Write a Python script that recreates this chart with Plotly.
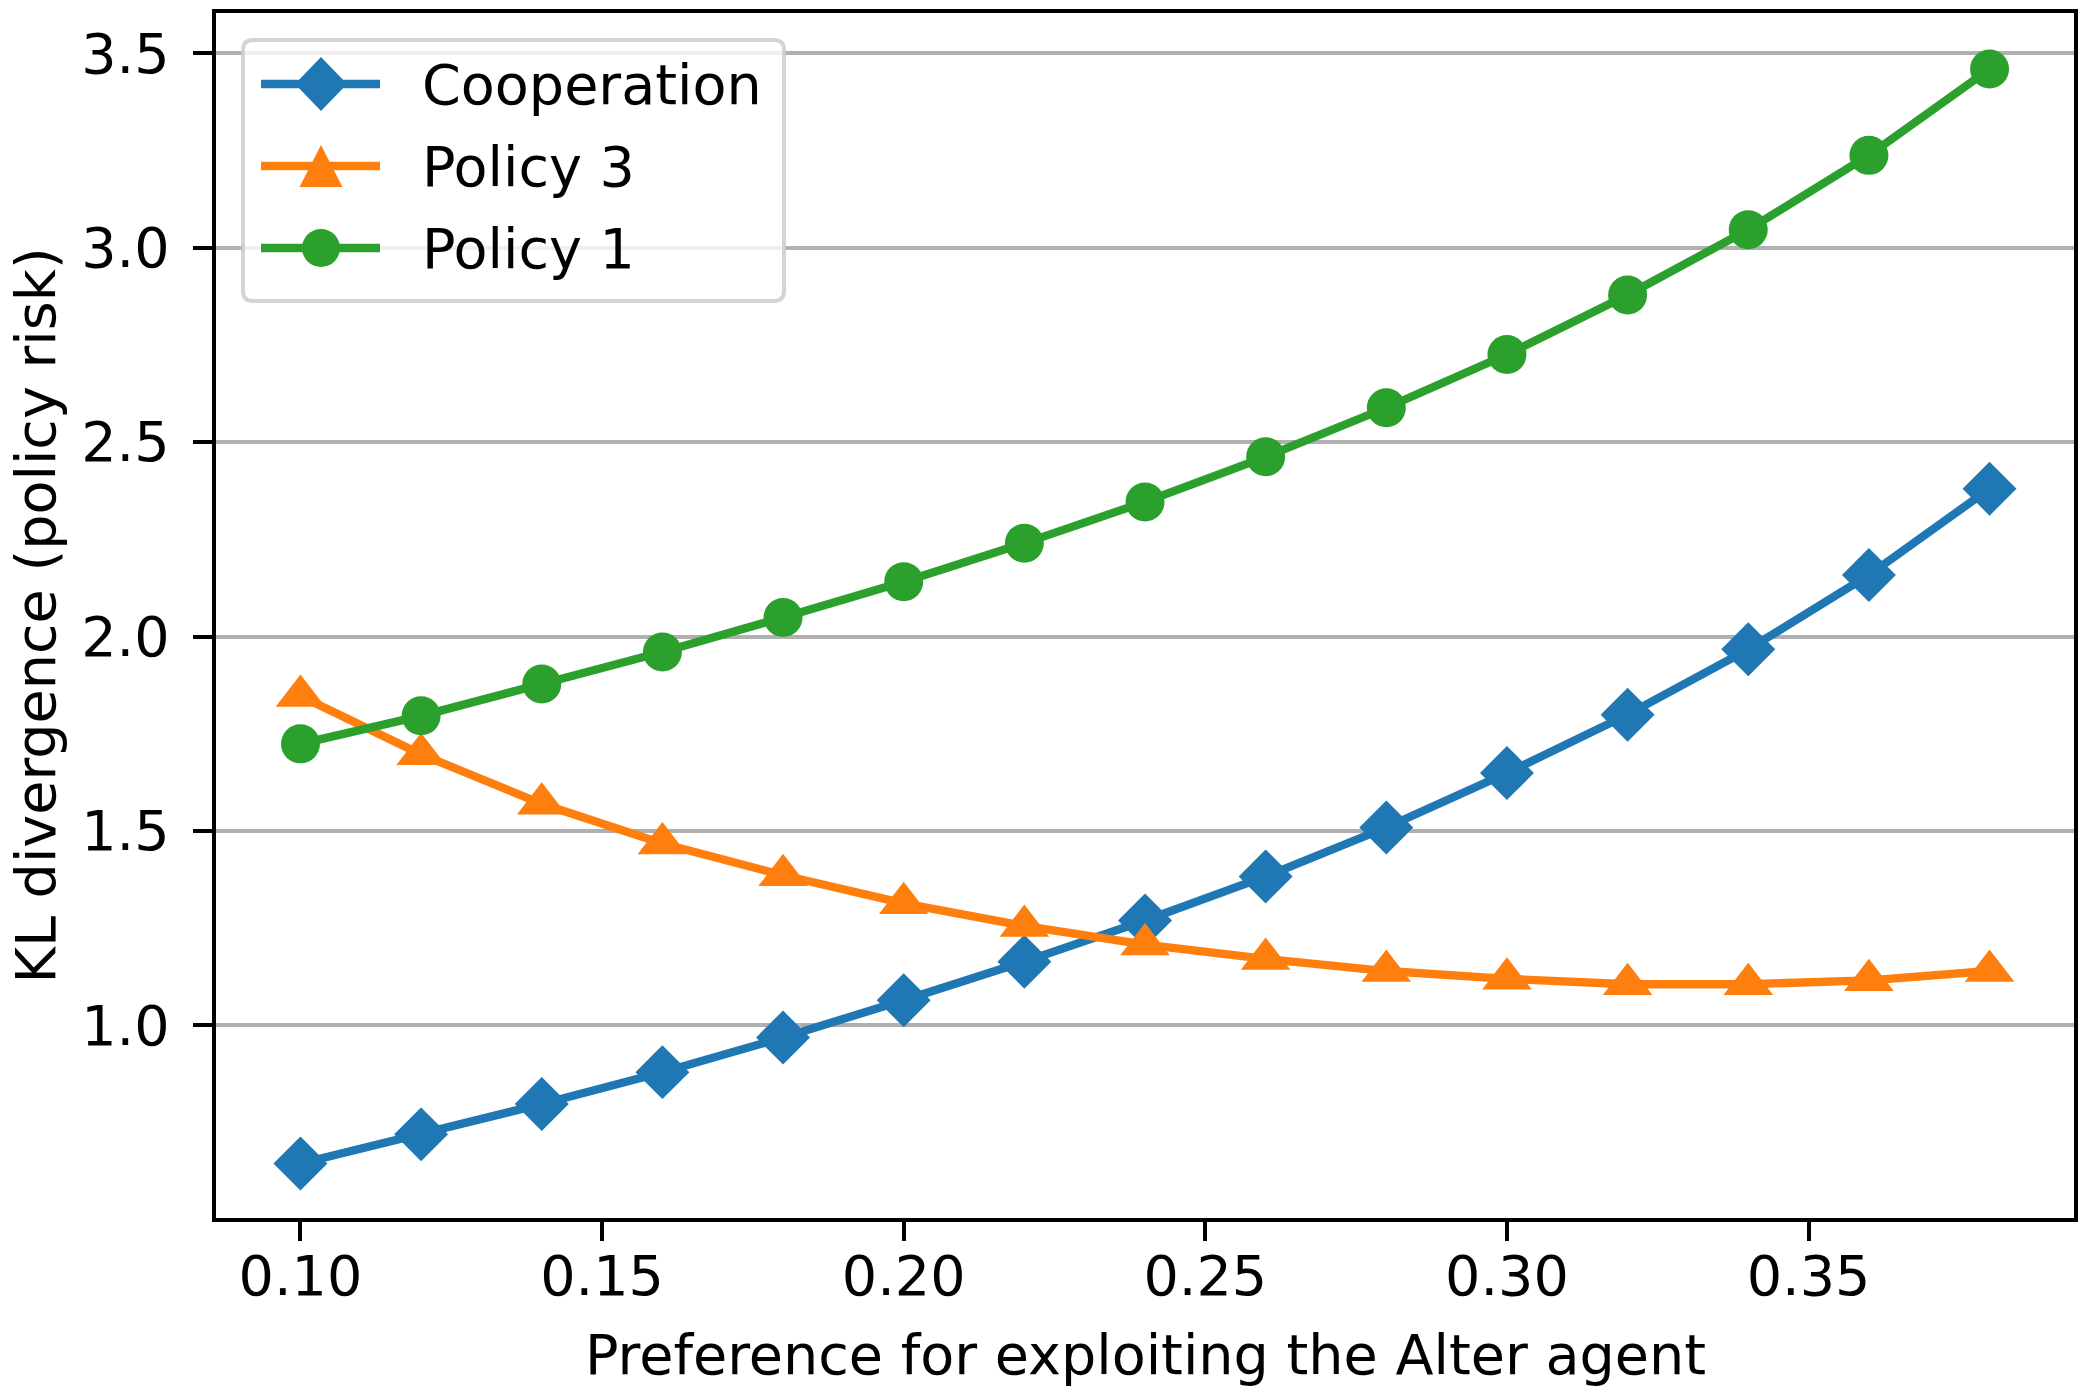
import plotly.graph_objects as go

# ---- data ----
x_pref = [0.10, 0.12, 0.14, 0.16, 0.18, 0.20, 0.22, 0.24, 0.26, 0.28, 0.30, 0.32, 0.34, 0.36, 0.38]
cooperation = [0.645, 0.720, 0.798, 0.880, 0.969, 1.065, 1.164, 1.270, 1.383, 1.509, 1.649, 1.799, 1.967, 2.158, 2.380]
policy3 = [1.847, 1.697, 1.570, 1.468, 1.386, 1.314, 1.256, 1.208, 1.171, 1.140, 1.120, 1.106, 1.106, 1.116, 1.140]
policy1 = [1.724, 1.796, 1.878, 1.960, 2.049, 2.141, 2.240, 2.346, 2.462, 2.588, 2.725, 2.878, 3.046, 3.237, 3.459]

series_names = ["Cooperation", "Policy 3", "Policy 1"]
x_ticks = [0.10, 0.15, 0.20, 0.25, 0.30, 0.35]
x_tick_labels = ["0.10", "0.15", "0.20", "0.25", "0.30", "0.35"]
y_ticks = [1.0, 1.5, 2.0, 2.5, 3.0, 3.5]
y_tick_labels = ["1.0", "1.5", "2.0", "2.5", "3.0", "3.5"]
x_title = "Preference for exploiting the Alter agent"
y_title = "KL divergence (policy risk)"

BLUE, ORANGE, GREEN = "#1f77b4", "#ff7f0e", "#2ca02c"
FONT = "DejaVu Sans"
FS = 55.6
LW = 8.3

fig = go.Figure()
specs = [
    (cooperation, series_names[0], BLUE, "diamond", 41.5),
    (policy3, series_names[1], ORANGE, "triangle-up", 43),
    (policy1, series_names[2], GREEN, "circle", 39),
]
for ys, name, col, sym, sz in specs:
    fig.add_trace(go.Scatter(
        x=x_pref, y=ys, name=name, mode="lines+markers",
        line=dict(color=col, width=LW),
        marker=dict(symbol=sym, size=sz, color=col, line=dict(width=0)),
        showlegend=False,
    ))

# ---- custom legend (pixel offsets from top-left corner of plot area) ----
shapes = []
common = dict(xref="paper", yref="paper", xsizemode="pixel", ysizemode="pixel",
              xanchor=0, yanchor=1, layer="above")
bx0, bx1, by0, by1, r = 27, 568, -27, -288, 10
box_path = (f"M{bx0+r},{by0} L{bx1-r},{by0} Q{bx1},{by0} {bx1},{by0-r} "
            f"L{bx1},{by1+r} Q{bx1},{by1} {bx1-r},{by1} L{bx0+r},{by1} "
            f"Q{bx0},{by1} {bx0},{by1+r} L{bx0},{by0-r} Q{bx0},{by0} {bx0+r},{by0} Z")
shapes.append(dict(type="path", path=box_path, fillcolor="rgba(255,255,255,0.8)",
                   line=dict(color="rgba(204,204,204,0.85)", width=4), **common))

rows = [-71, -153, -235]
cx = 105
cols = [BLUE, ORANGE, GREEN]
for yrow, col in zip(rows, cols):
    shapes.append(dict(type="line", x0=45, x1=164, y0=yrow, y1=yrow,
                       line=dict(color=col, width=LW), **common))
# diamond
yd = rows[0]
shapes.append(dict(type="path",
                   path=f"M{cx-26},{yd} L{cx},{yd+27} L{cx+26},{yd} L{cx},{yd-27} Z",
                   fillcolor=BLUE, line=dict(width=0), **common))
# triangle
yt = rows[1]
shapes.append(dict(type="path",
                   path=f"M{cx},{yt+21} L{cx+21.5},{yt-21} L{cx-21.5},{yt-21} Z",
                   fillcolor=ORANGE, line=dict(width=0), **common))
# circle
yc = rows[2]
shapes.append(dict(type="circle", x0=cx-19, x1=cx+19, y0=yc-19, y1=yc+19,
                   fillcolor=GREEN, line=dict(width=0), **common))

annotations = []
for yrow, name in zip(rows, series_names):
    annotations.append(dict(text=name, xref="paper", yref="paper", x=0, y=1,
                            xanchor="left", yanchor="middle", xshift=204, yshift=yrow,
                            showarrow=False, font=dict(family=FONT, size=FS, color="black")))
annotations.append(dict(text=x_title, xref="paper", yref="paper", x=0.5, y=0,
                        xanchor="center", yanchor="middle", yshift=-136, showarrow=False,
                        font=dict(family=FONT, size=FS, color="black")))
annotations.append(dict(text=y_title, xref="paper", yref="paper", x=0, y=0.5,
                        xanchor="center", yanchor="middle", xshift=-181, textangle=-90,
                        showarrow=False, font=dict(family=FONT, size=FS, color="black")))

fig.update_layout(
    width=2087, height=1399,
    margin=dict(l=216, r=12, t=9, b=181),
    paper_bgcolor="white", plot_bgcolor="white",
    font=dict(family=FONT, size=FS, color="black"),
    shapes=shapes, annotations=annotations,
    showlegend=False,
)
fig.update_xaxes(
    range=[0.086, 0.394], tickmode="array", tickvals=x_ticks, ticktext=x_tick_labels,
    showgrid=False, zeroline=False, showline=True, mirror=True,
    linecolor="black", linewidth=4.4, ticks="outside", ticklen=19, tickwidth=4.4,
    tickcolor="black", tickfont=dict(family=FONT, size=FS, color="black"),
    ticklabelstandoff=-13,
)
fig.update_yaxes(
    range=[0.505, 3.603], tickmode="array", tickvals=y_ticks, ticktext=y_tick_labels,
    showgrid=True, gridcolor="#b0b0b0", gridwidth=4.4, zeroline=False,
    showline=True, mirror=True, linecolor="black", linewidth=4.4,
    ticks="outside", ticklen=19, tickwidth=4.4, tickcolor="black",
    tickfont=dict(family=FONT, size=FS, color="black"),
    ticklabelstandoff=12,
)

fig.write_html("out.html", config={"displayModeBar": False},
               post_script="document.body.style.margin='0px';document.body.style.padding='0px';document.body.style.overflow='hidden';")
